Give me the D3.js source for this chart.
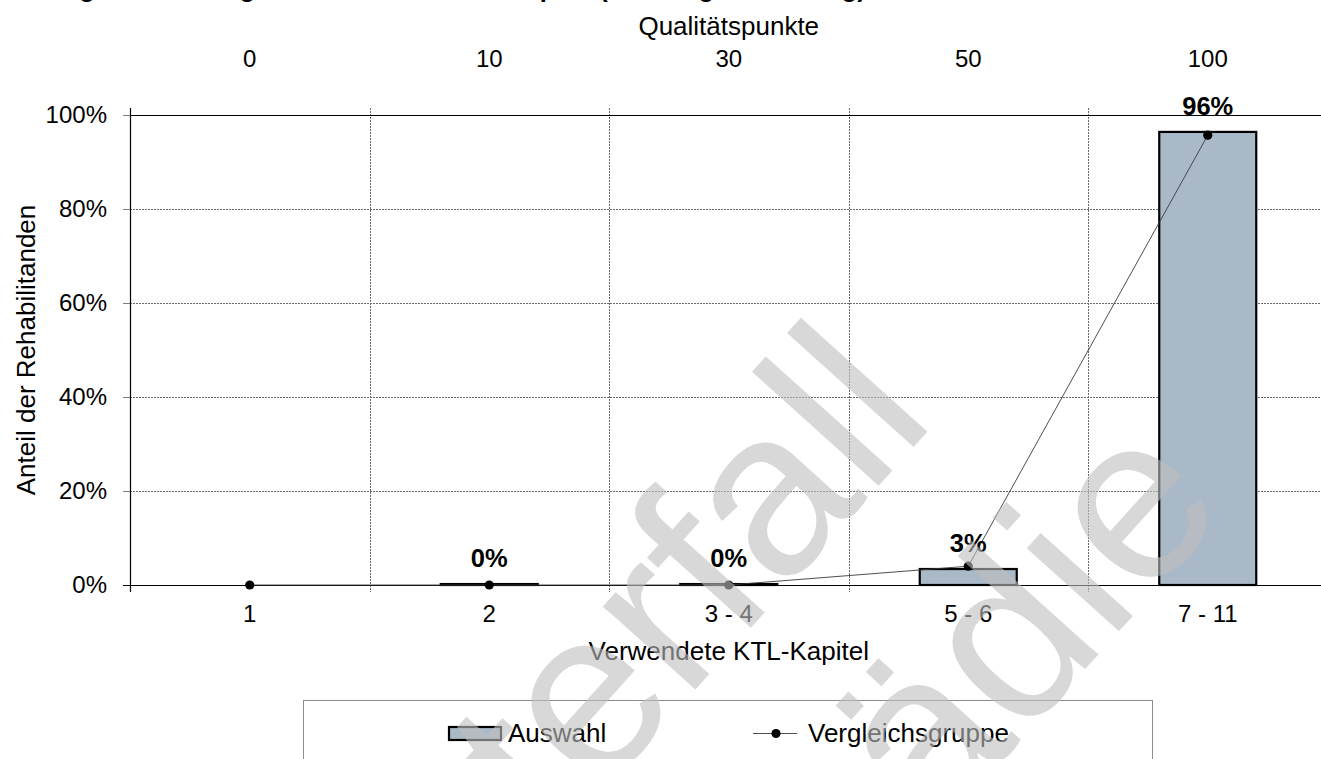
<!DOCTYPE html>
<html>
<head>
<meta charset="utf-8">
<script src="https://cdn.jsdelivr.net/npm/d3@7/dist/d3.min.js"></script>
<style>
  html, body { margin: 0; padding: 0; background: #fff; }
  svg { display: block; font-family: "Liberation Sans", Arial, sans-serif; }
</style>
</head>
<body>
<svg id="chart" width="1321" height="759"></svg>
<script>
// KTL-Kapitel (x axis, bottom) and their Qualitätspunkte (x axis, top)
const categories = ["1", "2", "3 - 4", "5 - 6", "7 - 11"];
const qualityPoints = ["0", "10", "30", "50", "100"];

// Share of patients per group
const auswahl = [null, 0.002, 0.002, 0.034, 0.964];
const vergleichsgruppe = [0, 0, 0, 0.040, 0.957];

const yTicks = [0, 0.2, 0.4, 0.6, 0.8, 1];

const titleText = "Umfang der Leistungen: Verwendete KTL-Kapitel (Leistungsbewertung)";
const watermarkLines = ["Musterfall", "Orthopädie"];

const svg = d3.select("#chart");
const W = 1321, H = 759;
const plotLeft = 130, plotRight = 1327.5, plotTop = 115, plotBottom = 585;

const x = d3.scaleBand().domain(categories).range([plotLeft, plotRight]).paddingInner(0).paddingOuter(0);
const xTop = d3.scaleBand().domain(qualityPoints).range([plotLeft, plotRight]).paddingInner(0).paddingOuter(0);
const y = d3.scaleLinear().domain([0, 1]).range([plotBottom, plotTop]);
const pct = d3.format(".0%");
const barColor = "#a9b9c8";
const FONT = "Liberation Sans, Arial, sans-serif";

// Title (sits above the visible area)
svg.append("text")
  .attr("x", 0).attr("y", -3)
  .attr("font-size", 25.5).attr("font-weight", "bold")
  .text(titleText);

// Horizontal gridlines
svg.append("g").selectAll("line")
  .data(yTicks.filter(t => t > 0 && t < 1))
  .join("line")
  .attr("x1", plotLeft).attr("x2", W)
  .attr("y1", d => Math.round(y(d)) + 0.5).attr("y2", d => Math.round(y(d)) + 0.5)
  .attr("stroke", "#6a6a6a").attr("stroke-width", 1).attr("stroke-dasharray", "2,1");

// Vertical separators between categories
svg.append("g").selectAll("line")
  .data(categories.slice(1))
  .join("line")
  .attr("x1", d => Math.round(x(d)) + 0.5).attr("x2", d => Math.round(x(d)) + 0.5)
  .attr("y1", plotTop - 7).attr("y2", plotBottom + 7)
  .attr("stroke", "#6a6a6a").attr("stroke-width", 1).attr("stroke-dasharray", "2,1");

// Y axis
const yAxis = svg.append("g")
  .attr("transform", `translate(${plotLeft},0)`)
  .call(d3.axisLeft(y).tickValues(yTicks).tickFormat(pct).tickSize(7).tickPadding(16));
yAxis.select(".domain").remove();
yAxis.selectAll(".tick line").attr("stroke", "#808080");
yAxis.selectAll("text").attr("font-size", 24).attr("fill", "#000").attr("font-family", FONT);

// Frame lines: left axis and 100% line
svg.append("line").attr("x1", plotLeft + 0.5).attr("x2", plotLeft + 0.5)
  .attr("y1", plotTop - 7).attr("y2", plotBottom + 7).attr("stroke", "#000").attr("stroke-width", 1.2);
svg.append("line").attr("x1", plotLeft).attr("x2", W)
  .attr("y1", y(1) + 0.5).attr("y2", y(1) + 0.5).attr("stroke", "#000").attr("stroke-width", 1.2);

// Bars (Auswahl)
const bw = x.bandwidth() * 0.405;
const barData = categories.map((c, i) => ({ c, v: auswahl[i] })).filter(d => d.v !== null);
svg.append("g").selectAll("rect")
  .data(barData)
  .join("rect")
  .attr("x", d => x(d.c) + (x.bandwidth() - bw) / 2)
  .attr("width", bw)
  .attr("y", d => y(d.v))
  .attr("height", d => y(0) - y(d.v))
  .attr("fill", barColor).attr("stroke", "#000").attr("stroke-width", 2.2);

// Baseline
svg.append("line").attr("x1", plotLeft - 7).attr("x2", W)
  .attr("y1", y(0) + 0.5).attr("y2", y(0) + 0.5).attr("stroke", "#000").attr("stroke-width", 1.2);

// Vergleichsgruppe line and markers
const cx = c => x(c) + x.bandwidth() / 2;
const lineData = categories.map((c, i) => ({ c, v: vergleichsgruppe[i] }));
svg.append("path")
  .datum(lineData)
  .attr("d", d3.line().x(d => cx(d.c)).y(d => y(d.v)))
  .attr("fill", "none").attr("stroke", "#3a3a3a").attr("stroke-width", 0.9);
svg.append("g").selectAll("circle")
  .data(lineData)
  .join("circle")
  .attr("cx", d => cx(d.c)).attr("cy", d => y(d.v)).attr("r", 4.6)
  .attr("fill", "#000");

// Value labels
svg.append("g").selectAll("text")
  .data(barData)
  .join("text")
  .attr("x", d => cx(d.c)).attr("y", d => y(d.v) - 17)
  .attr("text-anchor", "middle").attr("font-size", 25.5).attr("font-weight", "bold")
  .text(d => pct(d.v));

// Bottom category axis
const xAxis = svg.append("g")
  .attr("transform", `translate(0,${plotBottom})`)
  .call(d3.axisBottom(x).tickSize(0).tickPadding(20));
xAxis.select(".domain").remove();
xAxis.selectAll("text").attr("font-size", 24).attr("fill", "#000").attr("font-family", FONT);

// Top axis: Qualitätspunkte
const xAxisTop = svg.append("g")
  .attr("transform", `translate(0,${plotTop})`)
  .call(d3.axisTop(xTop).tickSize(0).tickPadding(48));
xAxisTop.select(".domain").remove();
xAxisTop.selectAll("text").attr("font-size", 24).attr("fill", "#000").attr("font-family", FONT);

// Axis titles
const midX = (plotLeft + plotRight) / 2;
svg.append("text").attr("x", midX).attr("y", 35).attr("text-anchor", "middle")
  .attr("font-size", 26).text("Qualitätspunkte");
svg.append("text").attr("x", midX).attr("y", 660).attr("text-anchor", "middle")
  .attr("font-size", 26).text("Verwendete KTL-Kapitel");
svg.append("text")
  .attr("transform", `translate(35,${(plotTop + plotBottom) / 2}) rotate(-90)`)
  .attr("text-anchor", "middle").attr("font-size", 26).text("Anteil der Rehabilitanden");

// Legend
const legend = svg.append("g");
legend.append("rect").attr("x", 303.5).attr("y", 700.5).attr("width", 849).attr("height", 120)
  .attr("fill", "#fff").attr("stroke", "#8c8c8c").attr("stroke-width", 1);
legend.append("rect").attr("x", 449).attr("y", 727).attr("width", 52).attr("height", 13)
  .attr("fill", barColor).attr("stroke", "#000").attr("stroke-width", 2.2);
legend.append("text").attr("x", 508).attr("y", 742).attr("font-size", 26).text("Auswahl");
legend.append("line").attr("x1", 753).attr("x2", 797).attr("y1", 733.5).attr("y2", 733.5)
  .attr("stroke", "#3a3a3a").attr("stroke-width", 0.9);
legend.append("circle").attr("cx", 776).attr("cy", 733.5).attr("r", 4.6).attr("fill", "#000");
legend.append("text").attr("x", 808).attr("y", 742).attr("font-size", 26).text("Vergleichsgruppe");

// Watermark
const wm = svg.append("g").attr("fill", "#bfbfbf").attr("opacity", 0.6)
  .attr("font-size", 235).attr("text-anchor", "end");
const wmAnchors = [[938, 420], [1231, 507]];
watermarkLines.forEach((t, i) => {
  wm.append("text")
    .attr("transform", `translate(${wmAnchors[i][0]},${wmAnchors[i][1]}) rotate(-48)`)
    .text(t);
});
</script>
</body>
</html>
